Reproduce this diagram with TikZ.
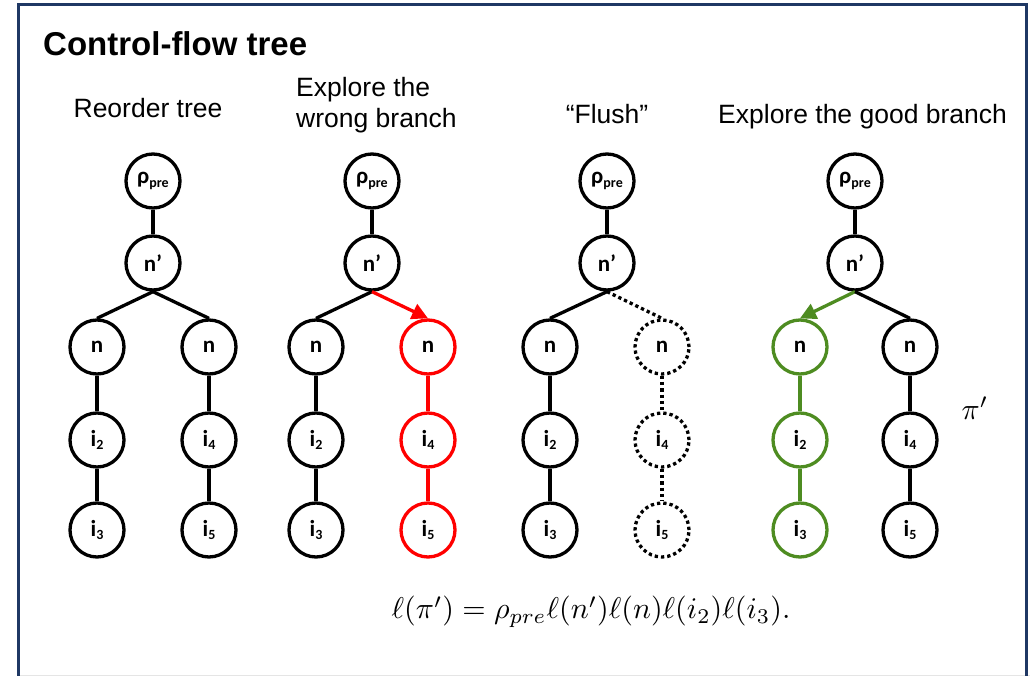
\documentclass[tikz,border=0pt]{standalone}
\usepackage{fontspec}
\newfontfamily\headfont{Liberation Sans}
\newfontfamily\labfont{Carlito}
\usetikzlibrary{arrows.meta}
\definecolor{framecol}{RGB}{31,56,100}
\definecolor{goodcol}{RGB}{78,140,33}
\definecolor{badcol}{RGB}{255,0,0}
% small lowered index inside a node label
\newcommand\lsub[1]{\raisebox{-0.3ex}{\fontsize{14}{14}\selectfont#1}}
% one control-flow tree: prefix, left x, middle x, right x,
% left-branch style, right-branch style, left tip, right tip
\newcommand\cftree[8]{%
  \node[tn] (#1r) at (#3,181) {ρ\lsub{pre}};
  \node[tn] (#1p) at (#3,263) {n’};
  \node[tn,#5] (#1a) at (#2,347) {n};
  \node[tn,#5] (#1b) at (#2,440) {i\lsub{2}};
  \node[tn,#5] (#1c) at (#2,530) {i\lsub{3}};
  \node[tn,#6] (#1d) at (#4,347) {n};
  \node[tn,#6] (#1e) at (#4,440) {i\lsub{4}};
  \node[tn,#6] (#1f) at (#4,530) {i\lsub{5}};
  \draw[link] (#1r) -- (#1p);
  \draw[link,#5,#7] (#1p.south) -- (#1a.north);
  \draw[link,#6,#8] (#1p.south) -- (#1d.north);
  \draw[link,#5] (#1a) -- (#1b);
  \draw[link,#5] (#1b) -- (#1c);
  \draw[link,#6] (#1d) -- (#1e);
  \draw[link,#6] (#1e) -- (#1f);
}
\begin{document}
\begin{tikzpicture}[x=1pt,y=-1pt,
  tn/.style={circle,draw,line width=3.3pt,minimum size=54pt,inner sep=0pt,
    font=\labfont\bfseries\fontsize{23}{23}\selectfont},
  link/.style={line width=3.3pt},
  bad/.style={draw=badcol},
  good/.style={draw=goodcol},
  gone/.style={dash pattern=on 3.3pt off 3pt},
  tip/.style={-{Triangle[length=16pt,width=16pt]}},
  head/.style={font=\headfont\fontsize{26.5}{31}\selectfont,inner sep=0pt},
]
\useasboundingbox (0,0) rectangle (1030,676);
\fill[white] (0,0) rectangle (1030,676);
\draw[gray!20,line width=1pt] (19,675.5) -- (1030,675.5);
\draw[framecol,line width=3pt] (18,690) |- (1026,5) -- (1026,690);

\node[inner sep=0pt,anchor=base west,font=\headfont\bfseries\fontsize{33}{36}\selectfont] (title) at (43,56) {Control-flow tree};

\node[head,anchor=base] (h1) at (148,118) {Reorder tree};
\node[head,anchor=base west] (h2a) at (296,97) {Explore the};
\node[head,anchor=base west] (h2b) at (296,128) {wrong branch};
\node[head,anchor=base] (h3) at (607,124) {“Flush”};
\node[head,anchor=base west] (h4) at (718,124) {Explore the good branch};

\cftree{a}{97}{153}{209}{}{}{}{}
\cftree{b}{316}{372}{428}{}{bad}{}{tip}
\cftree{c}{550}{607}{662}{}{gone}{}{}
\cftree{d}{800}{855}{910}{good}{}{tip}{}

\node[scale=3] (pilab) at (975,408) {$\pi'$};
\node[scale=3] (form) at (591,612) {$\ell(\pi')=\rho_{pre}\ell(n')\ell(n)\ell(i_2)\ell(i_3).$};
\end{tikzpicture}
\end{document}
